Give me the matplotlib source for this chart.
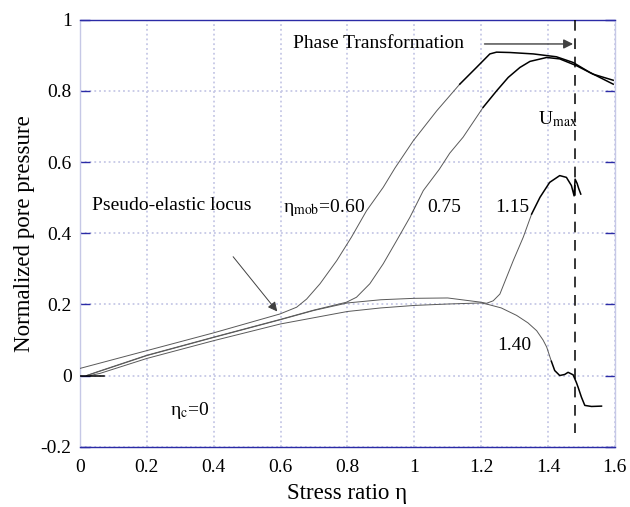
import numpy as np
import matplotlib.pyplot as plt

plt.rcParams['font.family'] = ['Liberation Serif', 'DejaVu Serif']
plt.rcParams['mathtext.fontset'] = 'stix'

# eta_mob = 0.60
x_060 = [0.0, 0.2, 0.4, 0.598, 0.648, 0.678, 0.718, 0.768, 0.812, 0.857, 0.907, 0.942,
         0.997, 1.067, 1.136, 1.186, 1.226, 1.246, 1.286, 1.356, 1.425, 1.475, 1.525, 1.595]
y_060 = [0.02, 0.07, 0.12, 0.173, 0.192, 0.215, 0.258, 0.323, 0.389, 0.463, 0.529, 0.583,
         0.66, 0.744, 0.819, 0.866, 0.904, 0.909, 0.908, 0.904, 0.896, 0.88, 0.852, 0.819]

# eta_mob = 0.75
x_075 = [0.02, 0.05, 0.2, 0.4, 0.6, 0.7, 0.797, 0.827, 0.867, 0.907, 0.947, 0.987, 1.027,
         1.075, 1.106, 1.146, 1.206, 1.246, 1.281, 1.316, 1.346, 1.396, 1.435, 1.485,
         1.535, 1.595]
y_075 = [0.0, 0.01, 0.057, 0.108, 0.158, 0.184, 0.206, 0.22, 0.258, 0.314, 0.379, 0.445,
         0.52, 0.58, 0.625, 0.67, 0.754, 0.80, 0.838, 0.866, 0.883, 0.894, 0.89, 0.871,
         0.847, 0.83]

# eta_mob = 1.15
x_115 = [0.02, 0.05, 0.2, 0.4, 0.6, 0.7, 0.8, 0.9, 1.0, 1.1, 1.2, 1.216, 1.236, 1.256,
         1.296, 1.326, 1.351, 1.376, 1.405, 1.435, 1.455, 1.47, 1.478, 1.481, 1.487,
         1.492, 1.498]
y_115 = [0.0, 0.009, 0.056, 0.107, 0.157, 0.183, 0.204, 0.213, 0.217, 0.218, 0.206, 0.203,
         0.21, 0.229, 0.323, 0.389, 0.454, 0.501, 0.543, 0.562, 0.557, 0.534, 0.505, 0.552,
         0.54, 0.525, 0.51]

# eta_mob = 1.40
x_140 = [0.03, 0.06, 0.2, 0.4, 0.6, 0.8, 0.9, 1.0, 1.1, 1.2, 1.22, 1.26, 1.306, 1.34,
         1.366, 1.385, 1.396, 1.41, 1.42, 1.435, 1.45, 1.46, 1.475, 1.485, 1.49, 1.50,
         1.51, 1.53, 1.56]
y_140 = [0.0, 0.006, 0.048, 0.098, 0.145, 0.18, 0.19, 0.197, 0.201, 0.204, 0.2, 0.19,
         0.169, 0.148, 0.126, 0.1, 0.08, 0.04, 0.014, 0.0, 0.003, 0.009, 0.002, -0.02,
         -0.033, -0.061, -0.084, -0.087, -0.086]

# x from which each record is drawn heavier (noisy part)
dark_from = [1.10, 1.20, 1.34, 1.41]
curves = [(x_060, y_060), (x_075, y_075), (x_115, y_115), (x_140, y_140)]

eta_max = 1.48

fig = plt.figure(figsize=(6.3, 5.07), dpi=100)
ax = fig.add_axes([0.127, 0.119, 0.849, 0.842])

blue = '#2b2ba6'
grid_c = '#c6c8e6'

for (x, y), xd in zip(curves, dark_from):
    x = np.array(x)
    y = np.array(y)
    k = np.searchsorted(x, xd)
    ax.plot(x[:k + 1], y[:k + 1], color='0.35', lw=0.7, zorder=3)
    ax.plot(x[k:], y[k:], color='black', lw=1.1, zorder=3)

# initial segment at the origin
ax.plot([0, 0.072], [0, 0], color='black', lw=1.1, zorder=3)

# U max line
ax.plot([eta_max, eta_max], [1.0, -0.162], color='black', lw=1.1,
        dashes=(7, 5), zorder=3)

ax.set_xlim(0, 1.6)
ax.set_ylim(-0.2, 1.0)
ax.set_xticks(np.arange(0, 1.61, 0.2))
ax.set_yticks(np.arange(-0.2, 1.01, 0.2))
ax.set_xticklabels(['0', '0.2', '0.4', '0.6', '0.8', '1', '1.2', '1.4', '1.6'])
ax.set_yticklabels(['-0.2', '0', '0.2', '0.4', '0.6', '0.8', '1'])
ax.tick_params(axis='y', direction='in', length=7, color=blue, width=1.0,
               right=True, labelsize=14, pad=6)
ax.tick_params(axis='x', length=0, labelsize=14, pad=9)
ax.grid(True, color=grid_c, linestyle=':', linewidth=1.3)

ax.spines['top'].set_color(blue)
ax.spines['bottom'].set_color(blue)
ax.spines['left'].set_color(grid_c)
ax.spines['right'].set_color(grid_c)
for s in ax.spines.values():
    s.set_linewidth(1.0)

ax.set_xlabel('Stress ratio η', fontsize=16.5, labelpad=5)
ax.set_ylabel('Normalized pore pressure', fontsize=16.5, labelpad=4)

ax.annotate('', xy=(1.475, 0.932), xytext=(1.21, 0.932),
            arrowprops=dict(arrowstyle='-|>', color='0.25', lw=1.0,
                            mutation_scale=14, shrinkA=0, shrinkB=0))
ax.text(0.637, 0.932, 'Phase Transformation', fontsize=14, va='center', ha='left')

ax.annotate('', xy=(0.59, 0.18), xytext=(0.458, 0.334),
            arrowprops=dict(arrowstyle='-|>', color='0.25', lw=0.7,
                            mutation_scale=14, shrinkA=0, shrinkB=0))
ax.text(0.036, 0.477, 'Pseudo-elastic locus', fontsize=14, va='center', ha='left')

ax.text(0.607, 0.472, r'η$_{\mathrm{mob}}$=0.60', fontsize=14, va='center', ha='left')
ax.text(1.04, 0.472, '0.75', fontsize=14, va='center', ha='left')
ax.text(1.241, 0.472, '1.15', fontsize=14, va='center', ha='left')
ax.text(1.247, 0.083, '1.40', fontsize=14, va='center', ha='left')
ax.text(1.37, 0.72, r'U$_{\mathrm{max}}$', fontsize=14, va='center', ha='left')
ax.text(0.269, -0.098, r'η$_{\mathrm{c}}$=0', fontsize=14, va='center', ha='left')

fig.savefig('out.png', dpi=100)
